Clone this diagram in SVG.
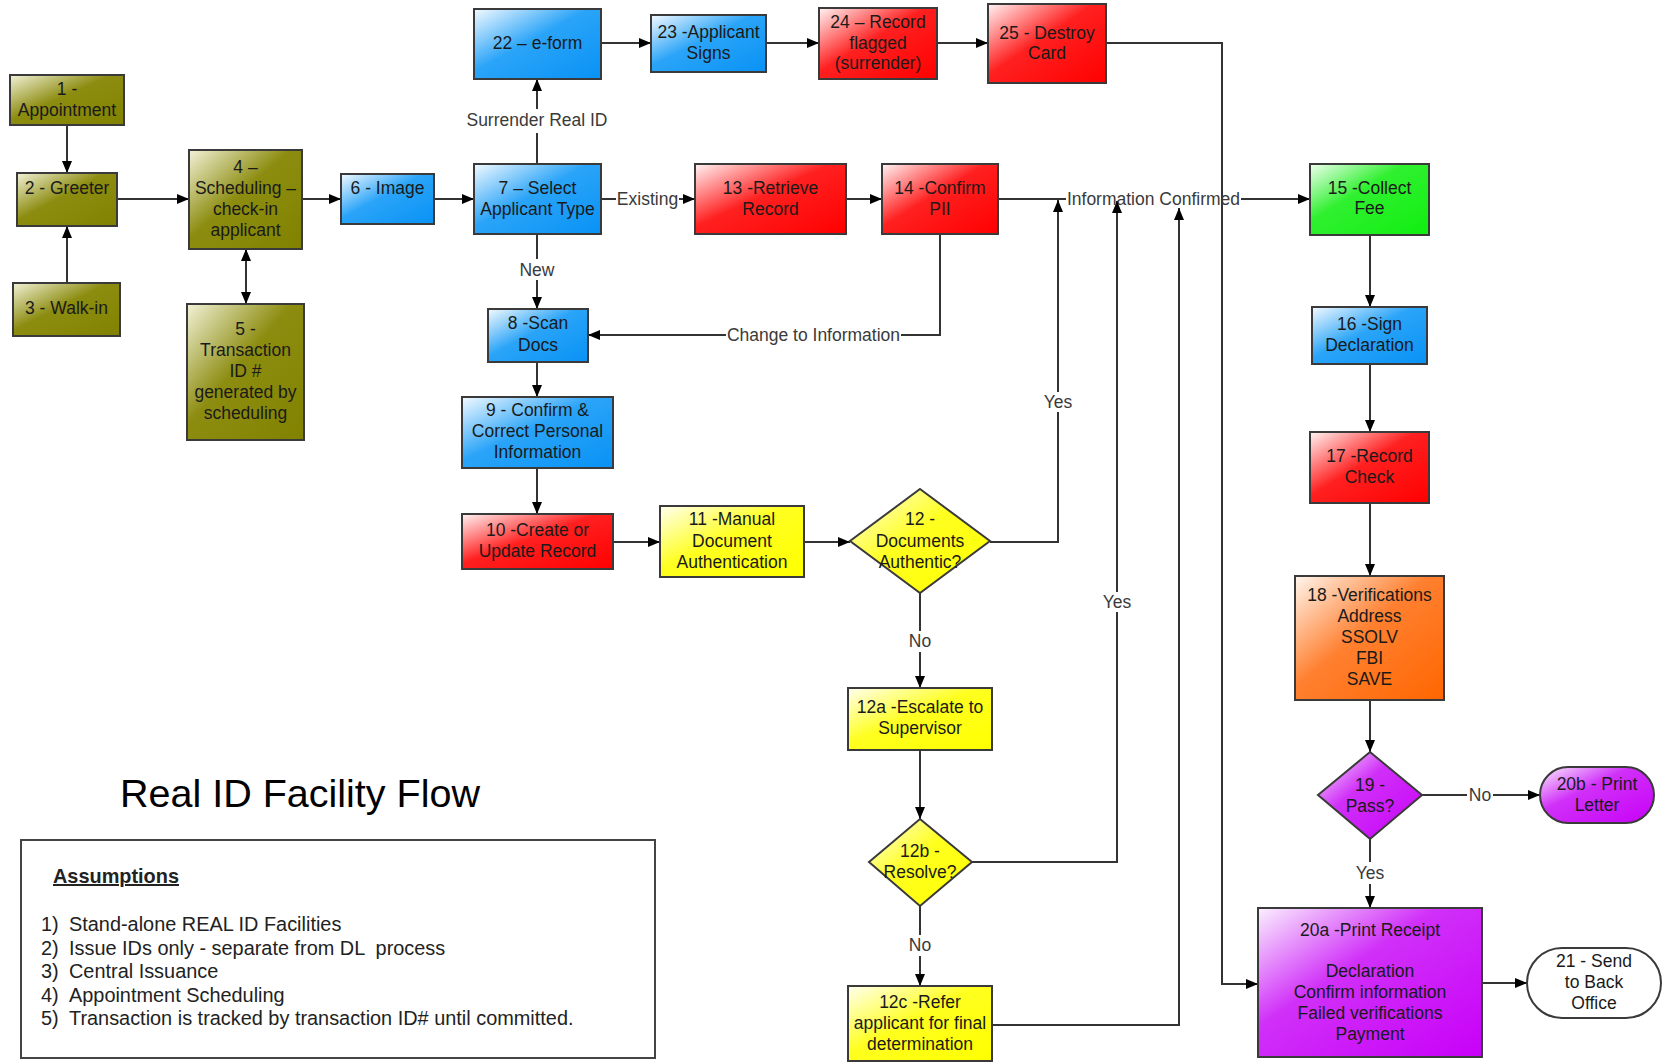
<svg xmlns="http://www.w3.org/2000/svg" width="1663" height="1063" viewBox="0 0 1663 1063">
<defs>
<linearGradient id="gOlive" x1="0" y1="0" x2="1" y2="1"><stop offset="0" stop-color="#f2f2d8"/><stop offset="0.45" stop-color="#8c8c10"/><stop offset="1" stop-color="#828200"/></linearGradient>
<linearGradient id="gBlue" x1="0" y1="0" x2="1" y2="1"><stop offset="0" stop-color="#f4faff"/><stop offset="0.45" stop-color="#2aa4f8"/><stop offset="1" stop-color="#0892f5"/></linearGradient>
<linearGradient id="gRed" x1="0" y1="0" x2="1" y2="1"><stop offset="0" stop-color="#fff4f4"/><stop offset="0.45" stop-color="#ff2020"/><stop offset="1" stop-color="#ff0000"/></linearGradient>
<linearGradient id="gYellow" x1="0" y1="0" x2="1" y2="1"><stop offset="0" stop-color="#fffff0"/><stop offset="0.45" stop-color="#ffff20"/><stop offset="1" stop-color="#ffff00"/></linearGradient>
<linearGradient id="gGreen" x1="0" y1="0" x2="1" y2="1"><stop offset="0" stop-color="#f0fff0"/><stop offset="0.4" stop-color="#30f030"/><stop offset="1" stop-color="#10ee10"/></linearGradient>
<linearGradient id="gOrange" x1="0" y1="0" x2="1" y2="1"><stop offset="0" stop-color="#fff6ee"/><stop offset="0.45" stop-color="#ff8030"/><stop offset="1" stop-color="#ff6600"/></linearGradient>
<linearGradient id="gPurple" x1="0" y1="0" x2="1" y2="1"><stop offset="0" stop-color="#fbf0ff"/><stop offset="0.4" stop-color="#d030f8"/><stop offset="1" stop-color="#c800f8"/></linearGradient>
<marker id="arr" markerUnits="userSpaceOnUse" markerWidth="12" markerHeight="10" refX="12" refY="5" orient="auto-start-reverse"><path d="M0,0 L12,5 L0,10 z" fill="#000"/></marker>
</defs>
<style>
.box{stroke:#3a3a3a;stroke-width:2}
.olive{fill:url(#gOlive)}.blue{fill:url(#gBlue)}.red{fill:url(#gRed)}.yellow{fill:url(#gYellow)}.green{fill:url(#gGreen)}.orange{fill:url(#gOrange)}.purple{fill:url(#gPurple)}
.t{font-family:"Liberation Sans",Arial,sans-serif;font-size:17.5px;fill:#1a1a1a;text-anchor:middle}
.lbl{font-family:"Liberation Sans",Arial,sans-serif;font-size:17.5px;fill:#3a3a3a;text-anchor:middle}
.c{fill:none;stroke:#333;stroke-width:2}
.a{marker-end:url(#arr)}
.as{marker-start:url(#arr)}
.title{font-family:"Liberation Sans",Arial,sans-serif;font-size:39.5px;fill:#000}
.as1{font-family:"Liberation Sans",Arial,sans-serif;font-size:19.9px;fill:#222;white-space:pre}
</style>
<rect width="1663" height="1063" fill="#fff"/>

<g id="connectors">
<line class="c a" x1="67" y1="125" x2="67" y2="173"/>
<line class="c a" x1="67" y1="283" x2="67" y2="226"/>
<line class="c a" x1="117" y1="199" x2="189" y2="199"/>
<line class="c a as" x1="246" y1="249" x2="246" y2="304"/>
<line class="c a" x1="302" y1="199" x2="341" y2="199"/>
<line class="c a" x1="434" y1="199" x2="474" y2="199"/>
<line class="c" x1="537" y1="164" x2="537" y2="133"/>
<line class="c a" x1="537" y1="109" x2="537" y2="79"/>
<text class="lbl" x="537" y="126">Surrender Real ID</text>
<line class="c" x1="601" y1="199" x2="616" y2="199"/>
<line class="c a" x1="679" y1="199" x2="695" y2="199"/>
<text class="lbl" x="647.5" y="205">Existing</text>
<line class="c a" x1="601" y1="43" x2="651" y2="43"/>
<line class="c a" x1="766" y1="43" x2="819" y2="43"/>
<line class="c a" x1="937" y1="43" x2="988" y2="43"/>
<polyline class="c a" points="1106,43 1222,43 1222,984 1258,984"/>
<line class="c a" x1="846" y1="199" x2="882" y2="199"/>
<line class="c" x1="998" y1="199" x2="1066" y2="199"/>
<line class="c a" x1="1241" y1="199" x2="1310" y2="199"/>
<text class="lbl" x="1153.5" y="205">Information Confirmed</text>
<polyline class="c" points="940,234 940,335 901,335"/>
<line class="c a" x1="726" y1="335" x2="588" y2="335"/>
<text class="lbl" x="813.5" y="341">Change to Information</text>
<line class="c" x1="537" y1="234" x2="537" y2="259"/>
<line class="c a" x1="537" y1="280" x2="537" y2="309"/>
<text class="lbl" x="537" y="276">New</text>
<line class="c a" x1="537" y1="362" x2="537" y2="397"/>
<line class="c a" x1="537" y1="468" x2="537" y2="514"/>
<line class="c a" x1="613" y1="542" x2="660" y2="542"/>
<line class="c a" x1="804" y1="542" x2="850" y2="542"/>
<polyline class="c" points="990,542 1058,542 1058,412"/>
<line class="c a" x1="1058" y1="392" x2="1058" y2="200"/>
<text class="lbl" x="1058" y="408">Yes</text>
<line class="c" x1="920" y1="593" x2="920" y2="631"/>
<line class="c a" x1="920" y1="652" x2="920" y2="688"/>
<text class="lbl" x="920" y="647">No</text>
<line class="c a" x1="920" y1="750" x2="920" y2="819"/>
<polyline class="c" points="972,862 1117,862 1117,612"/>
<line class="c a" x1="1117" y1="592" x2="1117" y2="201"/>
<text class="lbl" x="1117" y="608">Yes</text>
<line class="c" x1="920" y1="906" x2="920" y2="935"/>
<line class="c a" x1="920" y1="956" x2="920" y2="986"/>
<text class="lbl" x="920" y="951">No</text>
<polyline class="c a" points="992,1025 1179,1025 1179,208"/>
<line class="c a" x1="1370" y1="235" x2="1370" y2="307"/>
<line class="c a" x1="1370" y1="364" x2="1370" y2="432"/>
<line class="c a" x1="1370" y1="503" x2="1370" y2="576"/>
<line class="c a" x1="1370" y1="700" x2="1370" y2="752"/>
<line class="c" x1="1422" y1="795" x2="1467" y2="795"/>
<line class="c a" x1="1493" y1="795" x2="1540" y2="795"/>
<text class="lbl" x="1480" y="801">No</text>
<line class="c" x1="1370" y1="839" x2="1370" y2="862"/>
<line class="c a" x1="1370" y1="884" x2="1370" y2="908"/>
<text class="lbl" x="1370" y="879">Yes</text>
<line class="c a" x1="1482" y1="983" x2="1527" y2="983"/>
</g>

<g id="n1"><rect class="box olive" x="10" y="75" width="114" height="50"/><text class="t" x="67" y="95">1 -</text><text class="t" x="67" y="116">Appointment</text></g>
<g id="n2"><rect class="box olive" x="17" y="173" width="100" height="53"/><text class="t" x="67" y="194">2 - Greeter</text></g>
<g id="n3"><rect class="box olive" x="13" y="283" width="107" height="53"/><text class="t" x="66.5" y="314">3 - Walk-in</text></g>
<g id="n4"><rect class="box olive" x="189" y="150" width="113" height="99"/><text class="t" x="245.5" y="173">4 –</text><text class="t" x="245.5" y="194">Scheduling –</text><text class="t" x="245.5" y="215">check-in</text><text class="t" x="245.5" y="236">applicant</text></g>
<g id="n5"><rect class="box olive" x="187" y="304" width="117" height="136"/><text class="t" x="245.5" y="335">5 -</text><text class="t" x="245.5" y="356">Transaction</text><text class="t" x="245.5" y="377">ID #</text><text class="t" x="245.5" y="398">generated by</text><text class="t" x="245.5" y="419">scheduling</text></g>
<g id="n6"><rect class="box blue" x="341" y="174" width="93" height="50"/><text class="t" x="387.5" y="194">6 - Image</text></g>
<g id="n7"><rect class="box blue" x="474" y="164" width="127" height="70"/><text class="t" x="537.5" y="194">7 – Select</text><text class="t" x="537.5" y="215">Applicant Type</text></g>
<g id="n22"><rect class="box blue" x="474" y="9" width="127" height="70"/><text class="t" x="537.5" y="49">22 – e-form</text></g>
<g id="n23"><rect class="box blue" x="651" y="15" width="115" height="57"/><text class="t" x="708.5" y="38">23 -Applicant</text><text class="t" x="708.5" y="59">Signs</text></g>
<g id="n24"><rect class="box red" x="819" y="8" width="118" height="71"/><text class="t" x="878" y="28">24 – Record</text><text class="t" x="878" y="49">flagged</text><text class="t" x="878" y="69">(surrender)</text></g>
<g id="n25"><rect class="box red" x="988" y="4" width="118" height="79"/><text class="t" x="1047" y="39">25 - Destroy</text><text class="t" x="1047" y="59">Card</text></g>
<g id="n13"><rect class="box red" x="695" y="164" width="151" height="70"/><text class="t" x="770.5" y="194">13 -Retrieve</text><text class="t" x="770.5" y="215">Record</text></g>
<g id="n14"><rect class="box red" x="882" y="164" width="116" height="70"/><text class="t" x="940" y="194">14 -Confirm</text><text class="t" x="940" y="215">PII</text></g>
<g id="n15"><rect class="box green" x="1310" y="164" width="119" height="71"/><text class="t" x="1369.5" y="194">15 -Collect</text><text class="t" x="1369.5" y="214">Fee</text></g>
<g id="n16"><rect class="box blue" x="1312" y="307" width="115" height="57"/><text class="t" x="1369.5" y="330">16 -Sign</text><text class="t" x="1369.5" y="351">Declaration</text></g>
<g id="n17"><rect class="box red" x="1310" y="432" width="119" height="71"/><text class="t" x="1369.5" y="462">17 -Record</text><text class="t" x="1369.5" y="483">Check</text></g>
<g id="n18"><rect class="box orange" x="1295" y="576" width="149" height="124"/><text class="t" x="1369.5" y="601">18 -Verifications</text><text class="t" x="1369.5" y="622">Address</text><text class="t" x="1369.5" y="643">SSOLV</text><text class="t" x="1369.5" y="664">FBI</text><text class="t" x="1369.5" y="685">SAVE</text></g>
<g id="n8"><rect class="box blue" x="488" y="309" width="100" height="53"/><text class="t" x="538" y="329">8 -Scan</text><text class="t" x="538" y="351">Docs</text></g>
<g id="n9"><rect class="box blue" x="462" y="397" width="151" height="71"/><text class="t" x="537.5" y="416">9 - Confirm &amp;</text><text class="t" x="537.5" y="437">Correct Personal</text><text class="t" x="537.5" y="458">Information</text></g>
<g id="n10"><rect class="box red" x="462" y="514" width="151" height="55"/><text class="t" x="537.5" y="536">10 -Create or</text><text class="t" x="537.5" y="557">Update Record</text></g>
<g id="n11"><rect class="box yellow" x="660" y="506" width="144" height="71"/><text class="t" x="732" y="525">11 -Manual</text><text class="t" x="732" y="547">Document</text><text class="t" x="732" y="568">Authentication</text></g>
<g id="n12"><polygon class="box yellow" points="920,489 990,541 920,593 850,541"/><text class="t" x="920" y="525">12 -</text><text class="t" x="920" y="547">Documents</text><text class="t" x="920" y="568">Authentic?</text></g>
<g id="n12a"><rect class="box yellow" x="848" y="688" width="144" height="62"/><text class="t" x="920" y="713">12a -Escalate to</text><text class="t" x="920" y="734">Supervisor</text></g>
<g id="n12b"><polygon class="box yellow" points="920,819 972,862 920,906 869,862"/><text class="t" x="920" y="857">12b -</text><text class="t" x="920" y="878">Resolve?</text></g>
<g id="n12c"><rect class="box yellow" x="848" y="986" width="144" height="75"/><text class="t" x="920" y="1008">12c -Refer</text><text class="t" x="920" y="1029">applicant for final</text><text class="t" x="920" y="1050">determination</text></g>
<g id="n19"><polygon class="box purple" points="1370,752 1422,795 1370,839 1318,795"/><text class="t" x="1370" y="791">19 -</text><text class="t" x="1370" y="812">Pass?</text></g>
<g id="n20b"><rect class="box purple" x="1540" y="767" width="114" height="56" rx="28"/><text class="t" x="1597" y="790">20b - Print</text><text class="t" x="1597" y="811">Letter</text></g>
<g id="n20a"><rect class="box purple" x="1258" y="908" width="224" height="149"/><text class="t" x="1370" y="936">20a -Print Receipt</text><text class="t" x="1370" y="977">Declaration</text><text class="t" x="1370" y="998">Confirm information</text><text class="t" x="1370" y="1019">Failed verifications</text><text class="t" x="1370" y="1040">Payment</text></g>
<g id="n21"><rect class="box" fill="#fff" x="1527" y="948" width="134" height="70" rx="35"/><text class="t" x="1594" y="967">21 - Send</text><text class="t" x="1594" y="988">to Back</text><text class="t" x="1594" y="1009">Office</text></g>

<g id="title"><text class="title" x="120" y="807">Real ID Facility Flow</text></g>
<g id="assumptions">
<rect x="21" y="840" width="634" height="218" fill="#fff" stroke="#444" stroke-width="2"/>
<text class="as1" x="53" y="883" font-weight="bold" text-decoration="underline">Assumptions</text>
<text class="as1" x="41" y="931">1)</text><text class="as1" x="69" y="931">Stand-alone REAL ID Facilities</text>
<text class="as1" x="41" y="954.5">2)</text><text class="as1" x="69" y="954.5" xml:space="preserve">Issue IDs only - separate from DL  process</text>
<text class="as1" x="41" y="978">3)</text><text class="as1" x="69" y="978">Central Issuance</text>
<text class="as1" x="41" y="1001.5">4)</text><text class="as1" x="69" y="1001.5">Appointment Scheduling</text>
<text class="as1" x="41" y="1025">5)</text><text class="as1" x="69" y="1025">Transaction is tracked by transaction ID# until committed.</text>
</g>
</svg>
